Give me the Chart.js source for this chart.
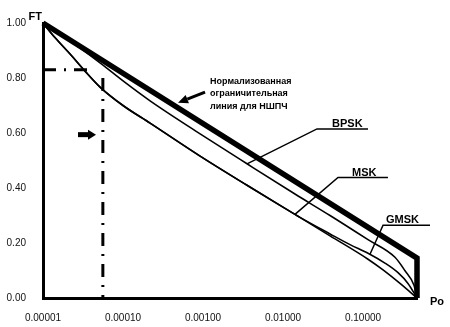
<!DOCTYPE html>
<html><head><meta charset="utf-8">
<script src="https://cdn.jsdelivr.net/npm/chart.js@4"></script>
<style>html,body{margin:0;padding:0;background:#fff}canvas{display:block}</style>
</head><body>
<canvas id="c" width="450" height="327"></canvas>
<script>
// ---- data ----
const xTickValues = [0.00001, 0.0001, 0.001, 0.01, 0.1];
const xTickLabels = ['0.00001', '0.00010', '0.00100', '0.01000', '0.10000'];
const yTickValues = [0, 0.2, 0.4, 0.6, 0.8, 1.0];
const yTickLabels = ['0.00', '0.20', '0.40', '0.60', '0.80', '1.00'];

const normPo = [0.00001, 0.473, 0.473];
const normFT = [1.0, 0.145, 0];

const bpskPo = [0.00001, 0.0000218, 0.0000516, 0.000106, 0.000218, 0.00092, 0.00355, 0.0141, 0.0387, 0.1155, 0.251, 0.335, 0.434, 0.473];
const bpskFT = [1.0, 0.935, 0.855, 0.784, 0.717, 0.597, 0.488, 0.378, 0.300, 0.212, 0.148, 0.099, 0.046, 0];

const mskPo = [0.00001, 0.0000141, 0.0000218, 0.0000335, 0.0000516, 0.0001, 0.000218, 0.00092, 0.00355, 0.0141, 0.0387, 0.1155, 0.178, 0.29, 0.473];
const mskFT = [1.0, 0.947, 0.887, 0.825, 0.767, 0.700, 0.636, 0.516, 0.410, 0.304, 0.226, 0.141, 0.102, 0.053, 0];

const gmskPo = [0.00001, 0.0000141, 0.0000218, 0.0000335, 0.0000516, 0.0001, 0.000218, 0.00092, 0.00355, 0.0141, 0.0163, 0.0387, 0.0688, 0.1155, 0.188, 0.274, 0.365, 0.473];
const gmskFT = [1.0, 0.947, 0.887, 0.825, 0.767, 0.700, 0.636, 0.516, 0.410, 0.304, 0.293, 0.233, 0.194, 0.163, 0.127, 0.092, 0.053, 0];

// dash-dot marker lines
const hMarkPo = [0.00001, 0.0000422];
const hMarkFT = [0.83, 0.83];
const vMarkPo = [0.000056, 0.000056];
const vMarkFT = [0.80, 0];

// labels (text, point on curve, underline start, underline end, text anchor)
const labelNames = ['BPSK', 'MSK', 'GMSK'];
const labelCurvePo = [0.00355, 0.0141, 0.1223];
const labelCurveFT = [0.488, 0.304, 0.159];
const labelLineStartPo = [0.0266, 0.0487, 0.178];
const labelLineEndPo = [0.1155, 0.205, 0.688];
const labelLineFT = [0.615, 0.438, 0.265];
const labelTextPo = [0.041, 0.0729, 0.194];

const noteLines = ['Нормализованная', 'ограничительная', 'линия для НШПЧ'];
const notePo = 0.001224, noteFT = 0.788;
const noteArrowPo = [0.00106, 0.000487];
const noteArrowFT = [0.749, 0.710];
const sideArrowPo = [0.0000274, 0.000046];
const sideArrowFT = [0.594, 0.594];

const zip = (a, b) => a.map((v, i) => ({x: v, y: b[i]}));
const FONT = "'Liberation Sans', Arial, sans-serif";

function drawArrow(ctx, x1, y1, x2, y2, shaftW, headL, headW) {
  const ang = Math.atan2(y2 - y1, x2 - x1);
  const bx = x2 - headL * Math.cos(ang), by = y2 - headL * Math.sin(ang);
  ctx.lineWidth = shaftW;
  ctx.lineCap = 'butt';
  ctx.beginPath(); ctx.moveTo(x1, y1); ctx.lineTo(bx, by); ctx.stroke();
  const px = -Math.sin(ang) * headW / 2, py = Math.cos(ang) * headW / 2;
  ctx.beginPath();
  ctx.moveTo(x2, y2); ctx.lineTo(bx + px, by + py); ctx.lineTo(bx - px, by - py);
  ctx.closePath(); ctx.fill();
}

const annot = {
  id: 'annot',
  afterDatasetsDraw(chart) {
    const {ctx, chartArea, scales: {x, y}} = chart;
    const px = v => x.getPixelForValue(v), py = v => y.getPixelForValue(v);
    ctx.save();
    ctx.strokeStyle = '#000'; ctx.fillStyle = '#000';
    // leaders + underlines + labels
    labelNames.forEach((name, i) => {
      ctx.lineWidth = 1.5;
      ctx.beginPath();
      ctx.moveTo(px(labelCurvePo[i]), py(labelCurveFT[i]));
      ctx.lineTo(px(labelLineStartPo[i]), py(labelLineFT[i]));
      ctx.lineTo(px(labelLineEndPo[i]), py(labelLineFT[i]));
      ctx.stroke();
      ctx.font = 'bold 11px ' + FONT;
      ctx.textAlign = 'left'; ctx.textBaseline = 'alphabetic';
      ctx.fillText(name, px(labelTextPo[i]), py(labelLineFT[i]) - 2);
    });
    // note text
    ctx.font = 'bold 9px ' + FONT;
    ctx.textAlign = 'left'; ctx.textBaseline = 'middle';
    noteLines.forEach((t, i) => ctx.fillText(t, px(notePo), py(noteFT) + i * 12.5));
    // arrows
    drawArrow(ctx, px(noteArrowPo[0]), py(noteArrowFT[0]), px(noteArrowPo[1]), py(noteArrowFT[1]), 3, 10, 9);
    drawArrow(ctx, px(sideArrowPo[0]), py(sideArrowFT[0]), px(sideArrowPo[1]), py(sideArrowFT[1]), 5, 8, 10);
    // axis titles
    ctx.font = 'bold 11px ' + FONT;
    ctx.textAlign = 'right'; ctx.textBaseline = 'alphabetic';
    ctx.fillText('FT', chartArea.left - 1, chartArea.top - 3);
    ctx.textAlign = 'left';
    ctx.fillText('Po', chartArea.right + 13, chartArea.bottom + 7);
    ctx.restore();
  }
};

const thin = {showLine: true, borderColor: '#000', borderWidth: 1.6, pointRadius: 0, cubicInterpolationMode: 'monotone', clip: false, fill: false};
const dashDot = {showLine: true, borderColor: '#000', borderWidth: 3, pointRadius: 0, tension: 0, borderDash: [13, 8, 2, 8], clip: false, fill: false};

new Chart(document.getElementById('c'), {
  type: 'scatter',
  data: {datasets: [
    Object.assign({label: 'BPSK', data: zip(bpskPo, bpskFT)}, thin),
    Object.assign({label: 'MSK', data: zip(mskPo, mskFT)}, thin),
    Object.assign({label: 'GMSK', data: zip(gmskPo, gmskFT)}, thin),
    {label: 'norm', data: zip(normPo, normFT), showLine: true, borderColor: '#000', borderWidth: 5.5, pointRadius: 0, tension: 0, borderJoinStyle: 'miter', clip: false, fill: false},
    Object.assign({label: 'h', data: zip(hMarkPo, hMarkFT)}, dashDot),
    Object.assign({label: 'v', data: zip(vMarkPo, vMarkFT)}, dashDot)
  ]},
  options: {
    responsive: false, animation: false, devicePixelRatio: 1,
    layout: {padding: {top: 15, right: 33, bottom: 0, left: 0}},
    plugins: {legend: {display: false}, tooltip: {enabled: false}},
    scales: {
      x: {
        type: 'logarithmic', min: 0.00001, max: 0.473,
        afterBuildTicks: s => { s.ticks = xTickValues.map(v => ({value: v})); },
        afterFit: s => { s.height = 29; },
        ticks: {callback: (v, i) => xTickLabels[i], autoSkip: false, maxRotation: 0, padding: 14, color: '#111', font: {family: FONT, size: 10}},
        grid: {display: false, drawTicks: false},
        border: {display: true, color: '#000', width: 3}
      },
      y: {
        type: 'linear', min: 0, max: 1,
        afterBuildTicks: s => { s.ticks = yTickValues.map(v => ({value: v})); },
        afterFit: s => { s.width = 43; },
        ticks: {callback: (v, i) => yTickLabels[i], padding: 17, color: '#111', font: {family: FONT, size: 10}},
        grid: {display: false, drawTicks: false},
        border: {display: true, color: '#000', width: 3}
      }
    }
  },
  plugins: [annot]
});
</script>
</body></html>
